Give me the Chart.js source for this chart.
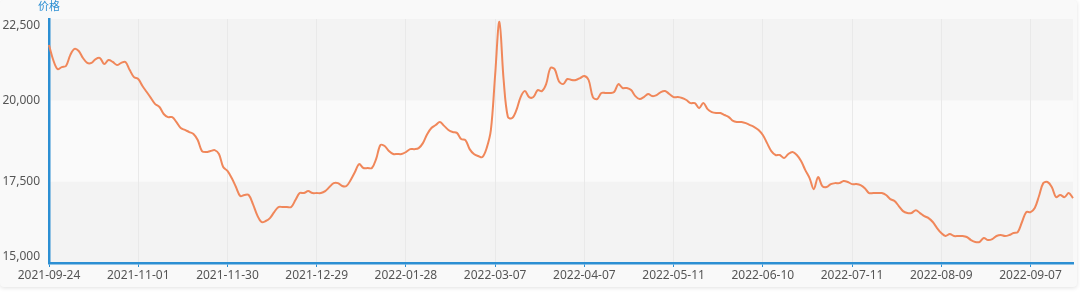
<!DOCTYPE html>
<html>
<head>
<meta charset="utf-8">
<script src="https://cdn.jsdelivr.net/npm/chart.js@4/dist/chart.umd.min.js"></script>
<style>
  html, body { margin: 0; padding: 0; background: #fff; }
  #card {
    position: absolute; left: 0; top: 0; width: 1077px; height: 287px;
    background: #f9f9f9; border-radius: 4px;
    box-shadow: 0 1px 4px rgba(0, 0, 0, 0.12);
  }
  #wrap { position: absolute; left: 0; top: 0; width: 1080px; height: 293px; }
</style>
</head>
<body>
<div id="card"></div>
<div id="wrap"><canvas id="chart" width="1080" height="293"></canvas></div>
<script>
const axisName = "价格";
const startDate = "2021-09-24";
const pointCount = 242;
// exchange holidays (weekdays) in the period
const holidays = [
  "2021-10-01", "2021-10-04", "2021-10-05", "2021-10-06", "2021-10-07",
  "2022-01-03",
  "2022-01-31", "2022-02-01", "2022-02-02", "2022-02-03", "2022-02-04",
  "2022-04-04", "2022-04-05",
  "2022-05-02", "2022-05-03", "2022-05-04",
  "2022-06-03",
  "2022-09-12"
];
const tickLabels = [
  "2021-09-24", "2021-11-01", "2021-11-30", "2021-12-29", "2022-01-28", "2022-03-07",
  "2022-04-07", "2022-05-11", "2022-06-10", "2022-07-11", "2022-08-09", "2022-09-07"
];
const yTicks = [15000, 17500, 20000, 22500];

const prices = [
  21700, 21240, 20960, 21020, 21055, 21390, 21580, 21515, 21300, 21150,
  21150, 21270, 21300, 21115, 21240, 21180, 21085, 21150, 21180, 20930,
  20715, 20655, 20440, 20255, 20070, 19885, 19795, 19580, 19485, 19485,
  19330, 19150, 19090, 19025, 18965, 18780, 18440, 18410, 18440, 18470,
  18350, 17950, 17830, 17610, 17335, 17060, 17090, 17090, 16810, 16470,
  16260, 16290, 16380, 16565, 16720, 16720, 16720, 16720, 16935, 17150,
  17150, 17210, 17150, 17150, 17150, 17210, 17335, 17455, 17455, 17365,
  17365, 17550, 17795, 18040, 17920, 17920, 17920, 18200, 18625, 18595,
  18440, 18350, 18350, 18350, 18410, 18500, 18500, 18530, 18685, 18960,
  19150, 19240, 19335, 19215, 19090, 19025, 19000, 18810, 18780, 18500,
  18350, 18290, 18255, 18530, 19090, 20780, 22410, 20625, 19485, 19455,
  19700, 20100, 20285, 20100, 20100, 20315, 20285, 20500, 20990, 20960,
  20590, 20500, 20655, 20625, 20625, 20685, 20750, 20625, 20100, 20040,
  20225, 20225, 20225, 20255, 20500, 20380, 20380, 20315, 20130, 20040,
  20100, 20195, 20130, 20160, 20255, 20285, 20195, 20100, 20100, 20070,
  20010, 19915, 19915, 19760, 19915, 19730, 19640, 19610, 19610, 19550,
  19485, 19365, 19335, 19335, 19300, 19240, 19180, 19090, 18935, 18685,
  18440, 18320, 18320, 18225, 18350, 18410, 18320, 18135, 17855, 17610,
  17270, 17640, 17365, 17335, 17425, 17455, 17455, 17520, 17490, 17425,
  17425, 17395, 17300, 17150, 17150, 17150, 17150, 17090, 16965, 16905,
  16750, 16595, 16535, 16535, 16625, 16535, 16440, 16380, 16260, 16075,
  15920, 15830, 15890, 15830, 15830, 15830, 15800, 15705, 15645, 15645,
  15770, 15705, 15735, 15830, 15860, 15830, 15860, 15920, 15950, 16260,
  16565, 16565, 16690, 17060, 17455, 17490, 17335, 17025, 17090, 17025,
  17150, 16995
];

// trading days from the start date, skipping weekends and holidays
const tradingDays = () => {
  const out = [];
  const d = new Date(startDate + "T00:00:00Z");
  while (out.length < pointCount) {
    const s = d.toISOString().slice(0, 10);
    const wd = d.getUTCDay();
    if (wd !== 0 && wd !== 6 && holidays.indexOf(s) === -1) out.push(s);
    d.setUTCDate(d.getUTCDate() + 1);
  }
  return out;
};
const dates = tradingDays();

const blue = "#2c8fd3";
const fontFamily = "'Noto Sans', 'Noto Sans CJK SC', sans-serif";

const bands = {
  id: "bands",
  beforeDraw(chart) {
    const { ctx, chartArea } = chart;
    const y = chart.scales.y;
    const colors = ["#f3f3f3", "#fafafa"];
    for (let i = 0; i < yTicks.length - 1; i++) {
      const top = y.getPixelForValue(yTicks[i + 1]);
      const bottom = y.getPixelForValue(yTicks[i]);
      ctx.fillStyle = colors[i % 2];
      ctx.fillRect(chartArea.left, top, chartArea.right - chartArea.left, bottom - top);
    }
  },
  afterDraw(chart) {
    const { ctx, chartArea } = chart;
    ctx.save();
    ctx.fillStyle = blue;
    ctx.font = "11px " + fontFamily;
    ctx.textAlign = "center";
    ctx.textBaseline = "middle";
    ctx.fillText(axisName, chartArea.left, 7);
    ctx.restore();
  }
};

new Chart(document.getElementById("chart"), {
  type: "line",
  data: {
    labels: dates,
    datasets: [{
      data: prices,
      borderColor: "#f0875a",
      borderWidth: 2,
      pointRadius: 0,
      tension: 0.35,
      fill: false
    }]
  },
  options: {
    responsive: false,
    animation: false,
    layout: { padding: { left: 0, right: 7, top: 19, bottom: 0 } },
    plugins: { legend: { display: false }, tooltip: { enabled: false } },
    scales: {
      x: {
        offset: false,
        afterFit: (s) => { s.height = 30; },
        grid: { color: "#e9e9e9", tickColor: blue, tickLength: 4, drawOnChartArea: true },
        border: { display: true, color: blue, width: 2.5 },
        ticks: {
          autoSkip: false,
          maxRotation: 0,
          padding: 1,
          color: "#555",
          font: { family: fontFamily, size: 12 },
          callback: function (value) {
            const lab = this.getLabelForValue(value);
            return tickLabels.indexOf(lab) !== -1 ? lab : null;
          }
        }
      },
      y: {
        min: 15000,
        max: 22500,
        afterFit: (s) => { s.width = 49; s.paddingTop = 0; s.paddingBottom = 0; },
        grid: { display: false, drawTicks: false },
        border: { display: true, color: blue, width: 2.5 },
        ticks: {
          stepSize: 2500,
          padding: 9,
          color: "#555",
          font: { family: fontFamily, size: 12, lineHeight: 1.1 },
          // end labels sit inside the plot, as in the original
          callback: (v, i, all) => {
            const s = v.toLocaleString("en-US");
            if (i === 0) return [s, ""];
            if (i === all.length - 1) return ["", s];
            return s;
          }
        }
      }
    }
  },
  plugins: [bands]
});
</script>
</body>
</html>
